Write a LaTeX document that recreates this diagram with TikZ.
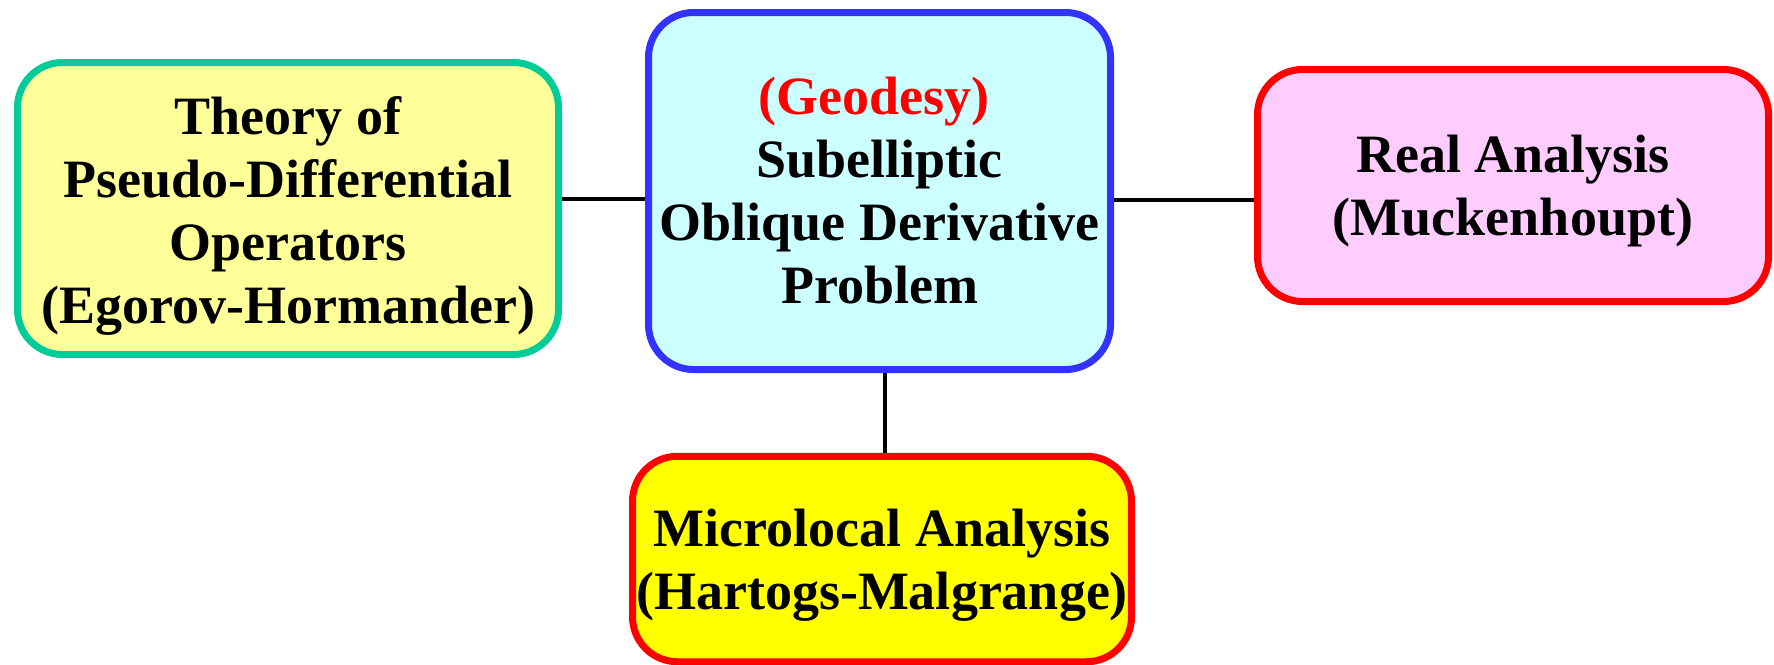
\documentclass[tikz,border=0pt]{standalone}
\usepackage{fontspec}
\setmainfont{Liberation Serif}
\definecolor{lfill}{HTML}{FFFF99}
\definecolor{ldraw}{HTML}{00CC99}
\definecolor{cfill}{HTML}{CCFFFF}
\definecolor{cdraw}{HTML}{3333FF}
\definecolor{rfill}{HTML}{FFCCFF}
\definecolor{rdraw}{HTML}{FF0000}
\definecolor{bfill}{HTML}{FFFF00}
\definecolor{geo}{HTML}{FF0000}
\begin{document}
\begin{tikzpicture}[x=1pt,y=-1pt,
  topicbox/.style={rectangle, rounded corners=45pt, line width=7pt, inner sep=0pt},
  boxtext/.style={align=center, inner sep=0pt, font=\bfseries\fontsize{54}{63}\selectfont},
  link/.style={line width=4pt, black}]
\useasboundingbox (0,0) rectangle (1774,664);
\fill[white] (0,0) rectangle (1774,664);
\node[topicbox, draw=ldraw, fill=lfill, minimum width=541pt, minimum height=292pt] (lbox) at (288,208.5) {};
\node[topicbox, draw=cdraw, fill=cfill, minimum width=462pt, minimum height=357pt] (cbox) at (879.5,191) {};
\node[topicbox, draw=rdraw, fill=rfill, minimum width=511pt, minimum height=232pt] (rbox) at (1513,185.5) {};
\node[topicbox, draw=rdraw, fill=bfill, minimum width=499pt, minimum height=205.5pt] (bbox) at (882,559) {};
\node[boxtext] (ltext) at ([yshift=-7pt]lbox.center)
  {Theory of\\Pseudo-Differential\\Operators\\(Egorov-Hormander)};
\node[boxtext] (ctext) at (cbox.center)
  {\textcolor{geo}{(Geodesy)}\hspace*{12pt}\\Subelliptic\hspace*{12pt}\\Oblique Derivative\\Problem};
\node[boxtext] (rtext) at ([yshift=-6pt]rbox.center) {Real Analysis\\(Muckenhoupt)};
\node[boxtext] (btext) at ([yshift=-6pt]bbox.center) {Microlocal Analysis\\(Hartogs-Malgrange)};
\draw[link] (lbox.east |- 0,199) -- (cbox.west |- 0,199);
\draw[link] (cbox.east |- 0,200) -- (rbox.west |- 0,200);
\draw[link] (cbox.south -| 885,0) -- (bbox.north -| 885,0);
\end{tikzpicture}
\end{document}
